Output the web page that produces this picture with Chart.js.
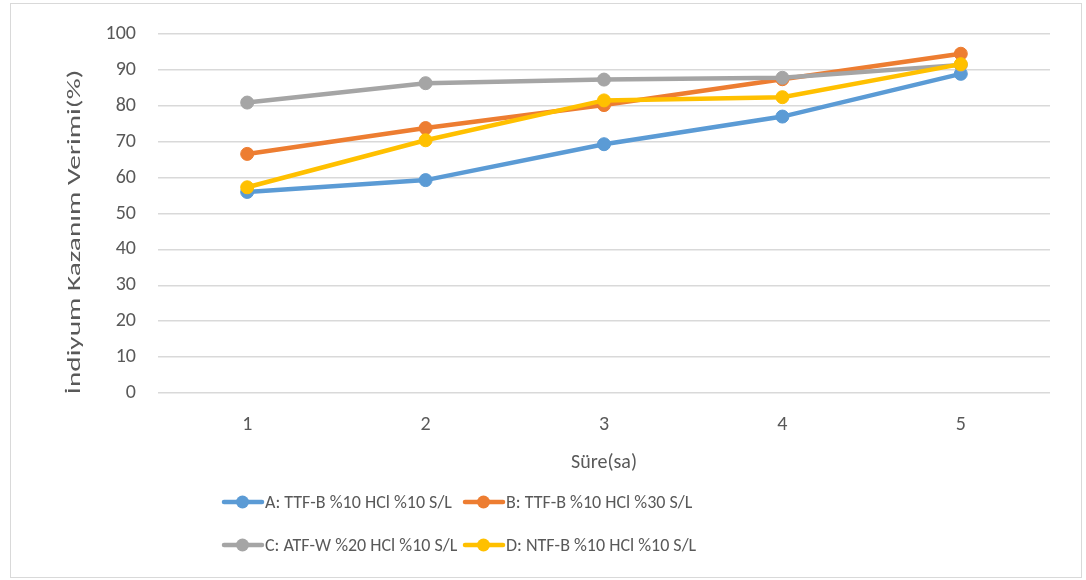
<!DOCTYPE html>
<html>
<head>
<meta charset="utf-8">
<script src="https://cdn.jsdelivr.net/npm/chart.js@4"></script>
<style>
html, body { margin: 0; padding: 0; background: #fff; }
</style>
</head>
<body>
<canvas id="chart" width="1086" height="580"></canvas>
<script>
// Süre (sa) categories and recovery (%) per test condition
const hours = ['1', '2', '3', '4', '5'];
const seriesA = [56.0, 59.3, 69.3, 77.0, 88.9];
const seriesB = [66.6, 73.8, 80.2, 87.4, 94.5];
const seriesC = [80.9, 86.3, 87.3, 87.8, 91.4];
const seriesD = [57.3, 70.4, 81.5, 82.4, 91.6];
const seriesNames = [
    'A: TTF-B %10 HCl %10 S/L',
    'B: TTF-B %10 HCl %30 S/L',
    'C: ATF-W %20 HCl %10 S/L',
    'D: NTF-B %10 HCl %10 S/L'
];
const yTicks = [0, 10, 20, 30, 40, 50, 60, 70, 80, 90, 100];
const xTitle = 'Süre(sa)';
const yTitle = 'İndiyum Kazanım Verimi(%)';

const colors = ['#5B9BD5', '#ED7D31', '#A5A5A5', '#FFC000'];
const FONT = 'Carlito, Lato, sans-serif';
const TEXT = '#595959';

Chart.defaults.font.family = FONT;
Chart.defaults.font.size = 20;
Chart.defaults.color = TEXT;

// white page + thin frame round the whole chart
const framePlugin = {
    id: 'frame',
    beforeDraw(chart) {
        const ctx = chart.ctx;
        ctx.save();
        ctx.fillStyle = '#fff';
        ctx.fillRect(0, 0, chart.width, chart.height);
        ctx.strokeStyle = '#d9d9d9';
        ctx.lineWidth = 1;
        ctx.strokeRect(10.5, 3.5, 1071, 574);
        ctx.restore();
    }
};

// the y title in the source is drawn long and thin, so stretch it along its length
const yTitlePlugin = {
    id: 'yTitle',
    afterDraw(chart) {
        const ctx = chart.ctx;
        ctx.save();
        ctx.font = '18px ' + FONT;
        const w = ctx.measureText(yTitle).width;
        ctx.translate(75, 232);
        ctx.rotate(-Math.PI / 2);
        ctx.scale(325 / w, 1);
        ctx.fillStyle = TEXT;
        ctx.textAlign = 'center';
        ctx.textBaseline = 'middle';
        ctx.fillText(yTitle, 0, 0);
        ctx.restore();
    }
};

// two-column legend like the Excel one
const legendPlugin = {
    id: 'gridLegend',
    afterDraw(chart) {
        const ctx = chart.ctx;
        const cols = [222, 463];
        const rows = [502, 545];
        chart.data.datasets.forEach((ds, i) => {
            const x = cols[i % 2];
            const y = rows[Math.floor(i / 2)];
            ctx.save();
            ctx.strokeStyle = ds.borderColor;
            ctx.lineWidth = 4.5;
            ctx.lineCap = 'round';
            ctx.beginPath();
            ctx.moveTo(x + 2, y);
            ctx.lineTo(x + 40, y);
            ctx.stroke();
            ctx.fillStyle = ds.borderColor;
            ctx.beginPath();
            ctx.arc(x + 20.5, y, 6.5, 0, Math.PI * 2);
            ctx.fill();
            ctx.font = '18px ' + FONT;
            ctx.fillStyle = TEXT;
            ctx.textBaseline = 'middle';
            ctx.textAlign = 'left';
            ctx.fillText(ds.label, x + 43, y + 1);
            ctx.restore();
        });
    }
};

function makeSet(i, values, order) {
    return {
        label: seriesNames[i],
        data: values,
        borderColor: colors[i],
        backgroundColor: colors[i],
        borderWidth: 4.5,
        pointRadius: 6.5,
        pointBorderWidth: 1,
        pointHoverRadius: 6.5,
        tension: 0,
        order: order
    };
}

new Chart(document.getElementById('chart').getContext('2d'), {
    type: 'line',
    data: {
        labels: hours,
        datasets: [
            makeSet(0, seriesA, 3),
            makeSet(1, seriesB, 2),
            makeSet(2, seriesC, 1),
            makeSet(3, seriesD, 0)
        ]
    },
    options: {
        responsive: false,
        animation: false,
        layout: { padding: { left: 10, top: 32, right: 36, bottom: 100 } },
        plugins: {
            legend: { display: false },
            tooltip: { enabled: false }
        },
        scales: {
            x: {
                offset: true,
                grid: { display: false, drawTicks: false },
                border: { display: false },
                ticks: { padding: 20, color: TEXT, font: { size: 20 } },
                title: {
                    display: true,
                    text: xTitle,
                    color: TEXT,
                    font: { size: 20 },
                    padding: { top: 0, bottom: 5 }
                },
                afterFit(s) { s.height = 87; }
            },
            y: {
                min: 0,
                max: 100,
                grid: { color: '#d9d9d9', lineWidth: 1.5, drawTicks: false },
                border: { display: false },
                ticks: {
                    padding: 22,
                    color: TEXT,
                    font: { size: 20 },
                    stepSize: 10,
                    callback: (v) => yTicks.includes(v) ? v : null
                },
                title: { display: false },
                afterFit(s) { s.width = 148; }
            }
        }
    },
    plugins: [framePlugin, yTitlePlugin, legendPlugin]
});
</script>
</body>
</html>
